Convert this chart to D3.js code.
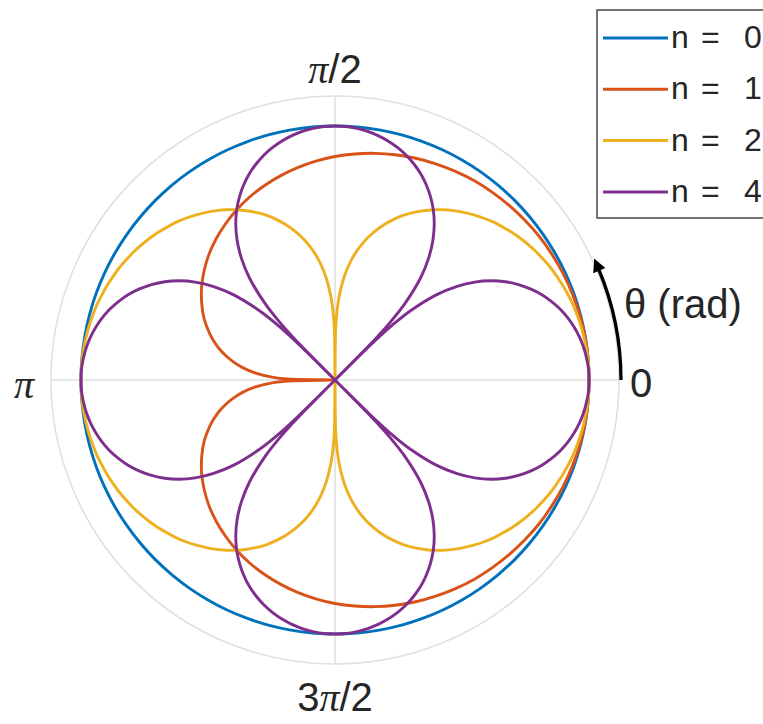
<!DOCTYPE html>
<html>
<head>
<meta charset="utf-8">
<script src="https://cdn.jsdelivr.net/npm/d3@7"></script>
<style>
  html, body { margin: 0; padding: 0; background: #ffffff; }
  svg { display: block; }
  text { font-family: "Liberation Sans", Arial, Helvetica, sans-serif; fill: #262626; }
  .pi { font-family: "Liberation Serif", "DejaVu Serif", serif; font-style: italic; }
</style>
</head>
<body>
<svg id="chart" width="763" height="724"></svg>
<script>
// Sample angles in degrees (counter-clockwise from the 0 direction).
// Extra samples sit next to the zeros of each pattern so the cusps stay sharp.
const anglesN0 = d3.range(0, 360, 5);
const anglesN1 = d3.sort([...d3.range(0, 360, 5),
  162.5, 167.5, 172.5, 177.5, 178.75, 181.25, 182.5, 187.5, 192.5, 197.5]);
const anglesN2 = d3.sort([...d3.range(0, 360, 2.5),
  88.75, 89.375, 90.625, 91.25, 268.75, 269.375, 270.625, 271.25]);
const anglesN4 = d3.sort([...d3.range(0, 360, 2.5),
  43.75, 44.375, 44.6875, 45.3125, 45.625, 46.25,
  133.75, 134.375, 134.6875, 135.3125, 135.625, 136.25,
  223.75, 224.375, 224.6875, 225.3125, 225.625, 226.25,
  313.75, 314.375, 314.6875, 315.3125, 315.625, 316.25]);

const seriesN = ["0", "1", "2", "4"];
const seriesColors = ["#0072BD", "#D95319", "#EDB120", "#7E2F8E"];

// n = 0
const radiusN0 = [
  1, 1, 1, 1, 1, 1, 1, 1, 1,
  1, 1, 1, 1, 1, 1, 1, 1, 1,
  1, 1, 1, 1, 1, 1, 1, 1, 1,
  1, 1, 1, 1, 1, 1, 1, 1, 1,
  1, 1, 1, 1, 1, 1, 1, 1, 1,
  1, 1, 1, 1, 1, 1, 1, 1, 1,
  1, 1, 1, 1, 1, 1, 1, 1, 1,
  1, 1, 1, 1, 1, 1, 1, 1, 1
];

// n = 1
const radiusN1 = [
  1.000, 1.000, .999, .997, .994, .991, .987, .983, .977, .971, .964, .957, .948, .939, .929, .918, .906, .893,
  .880, .865, .849, .832, .814, .795, .774, .751, .727, .701, .672, .641, .606, .568, .523, .498, .471, .440,
  .405, .365, .314, .243, .188,
  0,
  .188, .243, .314, .365, .405, .440, .471, .498, .523, .568, .606, .641, .672, .701, .727, .751, .774, .795,
  .814, .832, .849, .865, .880, .893, .906, .918, .929, .939, .948, .957, .964, .971, .977, .983, .987, .991,
  .994, .997, .999, 1.000
];

// n = 2
const radiusN2 = [
  1.000, 1.000, .999, .997, .994, .991, .987, .983, .977, .971, .964, .957, .948, .939, .929, .918, .906, .893,
  .880, .865, .849, .832, .814, .795, .774, .751, .727, .701, .672, .641, .606, .568, .523, .471, .405, .314,
  .243, .188, 0, .188, .243,
  .314, .405, .471, .523, .568, .606, .641, .672, .701, .727, .751, .774, .795, .814, .832, .849, .865,
  .880, .893, .906, .918, .929, .939, .948, .957, .964, .971, .977, .983, .987, .991, .994, .997, .999, 1.000,
  1.000, 1.000, .999, .997, .994, .991, .987, .983, .977, .971, .964, .957, .948, .939, .929, .918, .906, .893,
  .880, .865, .849, .832, .814, .795, .774, .751, .727, .701, .672, .641, .606, .568, .523, .471, .405, .314,
  .243, .188, 0, .188, .243,
  .314, .405, .471, .523, .568, .606, .641, .672, .701, .727, .751, .774, .795, .814, .832, .849, .865,
  .880, .893, .906, .918, .929, .939, .948, .957, .964, .971, .977, .983, .987, .991, .994, .997, .999, 1.000
];

// n = 4
const radiusN4 = [
  1.000, .999, .994, .987, .977, .964, .948, .929, .906, .880, .849, .814, .774, .727, .672, .606, .523, .405,
  .314, .243, .188, 0, .188, .243, .314,
  .405, .523, .606, .672, .727, .774, .814, .849, .880, .906, .929, .948, .964, .977, .987, .994, .999,
  1.000, .999, .994, .987, .977, .964, .948, .929, .906, .880, .849, .814, .774, .727, .672, .606, .523, .405,
  .314, .243, .188, 0, .188, .243, .314,
  .405, .523, .606, .672, .727, .774, .814, .849, .880, .906, .929, .948, .964, .977, .987, .994, .999,
  1.000, .999, .994, .987, .977, .964, .948, .929, .906, .880, .849, .814, .774, .727, .672, .606, .523, .405,
  .314, .243, .188, 0, .188, .243, .314,
  .405, .523, .606, .672, .727, .774, .814, .849, .880, .906, .929, .948, .964, .977, .987, .994, .999,
  1.000, .999, .994, .987, .977, .964, .948, .929, .906, .880, .849, .814, .774, .727, .672, .606, .523, .405,
  .314, .243, .188, 0, .188, .243, .314,
  .405, .523, .606, .672, .727, .774, .814, .849, .880, .906, .929, .948, .964, .977, .987, .994, .999
];

// Angular ticks: angle in degrees and label pieces (π set in italic serif)
const thetaTickAngles = [0, 90, 180, 270];
const thetaTickLabels = [
  [["0", false]],
  [["π", true], ["/2", false]],
  [["π", true]],
  [["3", false], ["π", true], ["/2", false]]
];
const thetaAxisLabel = "θ (rad)";
const radialLimit = 1.118;

// ---------------------------------------------------------------
const svg = d3.select("#chart");
const cx = 335, cy = 380, outerR = 284;

const r = d3.scaleLinear().domain([0, radialLimit]).range([0, outerR]);
const deg = d3.scaleLinear().domain([0, 360]).range([0, 2 * Math.PI]);

const g = svg.append("g").attr("transform", `translate(${cx},${cy})`);

// Grid: outer circle and the four spokes
const gridColor = "#e0e0e0";
g.append("circle").attr("r", outerR).attr("fill", "none")
  .attr("stroke", gridColor).attr("stroke-width", 1.6);
thetaTickAngles.forEach(a => {
  const t = deg(a);
  g.append("line")
    .attr("x1", 0).attr("y1", 0)
    .attr("x2", outerR * Math.cos(t)).attr("y2", -outerR * Math.sin(t))
    .attr("stroke", gridColor).attr("stroke-width", 1.6);
});

// Curves
const seriesData = [
  anglesN0.map((a, i) => [a, radiusN0[i]]),
  anglesN1.map((a, i) => [a, radiusN1[i]]),
  anglesN2.map((a, i) => [a, radiusN2[i]]),
  anglesN4.map((a, i) => [a, radiusN4[i]])
];

const radial = d3.lineRadial()
  .angle(d => Math.PI / 2 - deg(d[0]))
  .radius(d => r(d[1]))
  .curve(d3.curveCatmullRomClosed.alpha(0.5));

seriesData.forEach((pts, i) => {
  g.append("path")
    .attr("d", radial(pts))
    .attr("fill", "none")
    .attr("stroke", seriesColors[i])
    .attr("stroke-width", 2.9)
    .attr("stroke-linejoin", "round");
});

// Angular tick labels
const tickFont = 40;
const tickPlacement = [
  { x: 295, y: 17, anchor: "start" },
  { x: 0, y: -297, anchor: "middle" },
  { x: -301, y: 18, anchor: "end" },
  { x: 0, y: 331, anchor: "middle" }
];
thetaTickLabels.forEach((pieces, i) => {
  const p = tickPlacement[i];
  const t = g.append("text")
    .attr("x", p.x).attr("y", p.y)
    .attr("text-anchor", p.anchor)
    .attr("font-size", tickFont);
  pieces.forEach(([s, isPi]) => {
    t.append("tspan").attr("class", isPi ? "pi" : null).text(s);
  });
});

// Direction arrow for theta and its label
svg.append("defs").append("marker")
  .attr("id", "arrowHead")
  .attr("viewBox", "0 0 10 10")
  .attr("refX", 2).attr("refY", 5)
  .attr("markerWidth", 4.6).attr("markerHeight", 4)
  .attr("markerUnits", "strokeWidth")
  .attr("orient", "auto")
  .append("path").attr("d", "M0,0 L10,5 L0,10 Z").attr("fill", "#000");

const arrowPath = d3.path();
arrowPath.arc(0, 0, outerR + 2, 0, -deg(23), true);
g.append("path")
  .attr("d", arrowPath.toString())
  .attr("fill", "none")
  .attr("stroke", "#000")
  .attr("stroke-width", 3.3)
  .attr("marker-end", "url(#arrowHead)");

g.append("text")
  .attr("x", 624 - cx).attr("y", 318 - cy)
  .attr("font-size", 40)
  .text(thetaAxisLabel);

// Legend: "n", "=" and the value are spaced out as separate pieces
const legend = svg.append("g").attr("transform", "translate(597,10)");
legend.append("rect")
  .attr("x", 0).attr("y", 0).attr("width", 180).attr("height", 208)
  .attr("fill", "#fff").attr("stroke", "#3a3a3a").attr("stroke-width", 1.4);
seriesN.forEach((n, i) => {
  const yy = 28 + i * 51.3;
  legend.append("line")
    .attr("x1", 6).attr("x2", 71).attr("y1", yy).attr("y2", yy)
    .attr("stroke", seriesColors[i]).attr("stroke-width", 3);
  const t = legend.append("text")
    .attr("y", yy + 10)
    .attr("font-size", 32);
  t.append("tspan").attr("x", 74).text("n");
  t.append("tspan").attr("x", 104).text("=");
  t.append("tspan").attr("x", 147).text(n);
});
</script>
</body>
</html>
